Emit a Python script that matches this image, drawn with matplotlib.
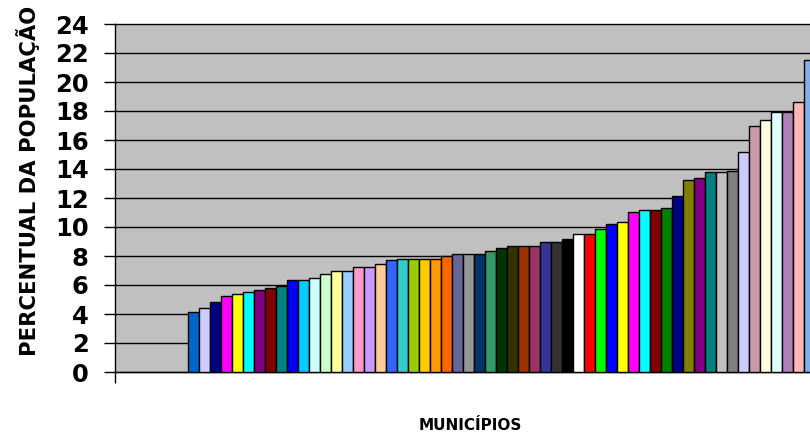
from matplotlib import pyplot as plt

# percentage of population per municipality, sorted ascending
values = [4.16, 4.39, 4.85, 5.24, 5.38, 5.49, 5.66, 5.79, 5.93, 6.34,
          6.32, 6.46, 6.73, 6.97, 6.99, 7.26, 7.26, 7.45, 7.70, 7.79,
          7.79, 7.79, 7.79, 7.98, 8.11, 8.11, 8.13, 8.37, 8.55, 8.69,
          8.69, 8.69, 8.94, 8.94, 9.15, 9.49, 9.49, 9.86, 10.20, 10.32,
          11.01, 11.15, 11.15, 11.31, 12.16, 13.22, 13.38, 13.77, 13.77, 13.89,
          15.20, 16.97, 17.38, 17.91, 17.91, 18.62, 21.52]

# one colour per municipality (office palette order, last ones are light fills)
colors = ['#0066cc', '#ccccff', '#000080', '#ff00ff', '#ffff00', '#00ffff', '#800080',
          '#800000', '#008080', '#0000ff', '#00ccff', '#ccffff', '#ccffcc', '#ffff99',
          '#99ccff', '#ff99cc', '#cc99ff', '#ffcc99', '#3366ff', '#33cccc', '#99cc00',
          '#ffcc00', '#ff9900', '#ff6600', '#666699', '#969696', '#003366', '#339966',
          '#003300', '#333300', '#993300', '#993366', '#333399', '#333333', '#000000',
          '#ffffff', '#ff0000', '#00ff00', '#0000ff', '#ffff00', '#ff00ff', '#00ffff',
          '#800000', '#008000', '#000080', '#808000', '#800080', '#008080', '#c0c0c0',
          '#808080', '#ccccff', '#cc99aa', '#ffffe0', '#e0ffff', '#b080b8', '#ffb8b8',
          '#80b0e8']

yticks = list(range(0, 25, 2))


def set_spines(ax):
    ax.spines['top'].set_visible(False)
    ax.spines['right'].set_visible(False)
    ax.spines['left'].set_linewidth(1.0)
    ax.spines['bottom'].set_linewidth(1.0)


def main():
    fig = plt.figure(figsize=(8.1, 4.37), dpi=100)
    ax = fig.add_axes([115 / 810, 65 / 437, 711 / 810, 348 / 437])
    ax.set_facecolor('#c0c0c0')
    set_spines(ax)

    ax.bar(range(len(values)), values, width=1.0, color=colors,
           edgecolor='black', linewidth=1.0, zorder=3)

    xleft = -7.16
    ax.set_xlim(xleft, 57.5)
    ax.set_ylim(0, 24)
    ax.set_yticks(yticks)
    ax.set_xticks([xleft])
    ax.set_xticklabels([])

    ax.yaxis.grid(True, color='black', linewidth=1.0)
    ax.set_axisbelow(True)
    for line in ax.get_ygridlines():
        line.set_clip_on(False)

    ax.tick_params(axis='y', direction='out', length=8, width=1.0, pad=11,
                   labelsize=17.5)
    ax.tick_params(axis='x', direction='out', length=8, width=1.0)
    for lab in ax.get_yticklabels():
        lab.set_fontweight('bold')

    fig.text(28 / 810, 81 / 437, 'PERCENTUAL DA POPULAÇÃO', rotation=90,
             ha='center', va='bottom', fontsize=15.2, fontweight='bold')
    fig.text(470 / 810, 7 / 437, 'MUNICÍPIOS', ha='center', va='baseline',
             fontsize=11, fontweight='bold')

    fig.savefig('out.png', dpi=100)


if __name__ == '__main__':
    main()
